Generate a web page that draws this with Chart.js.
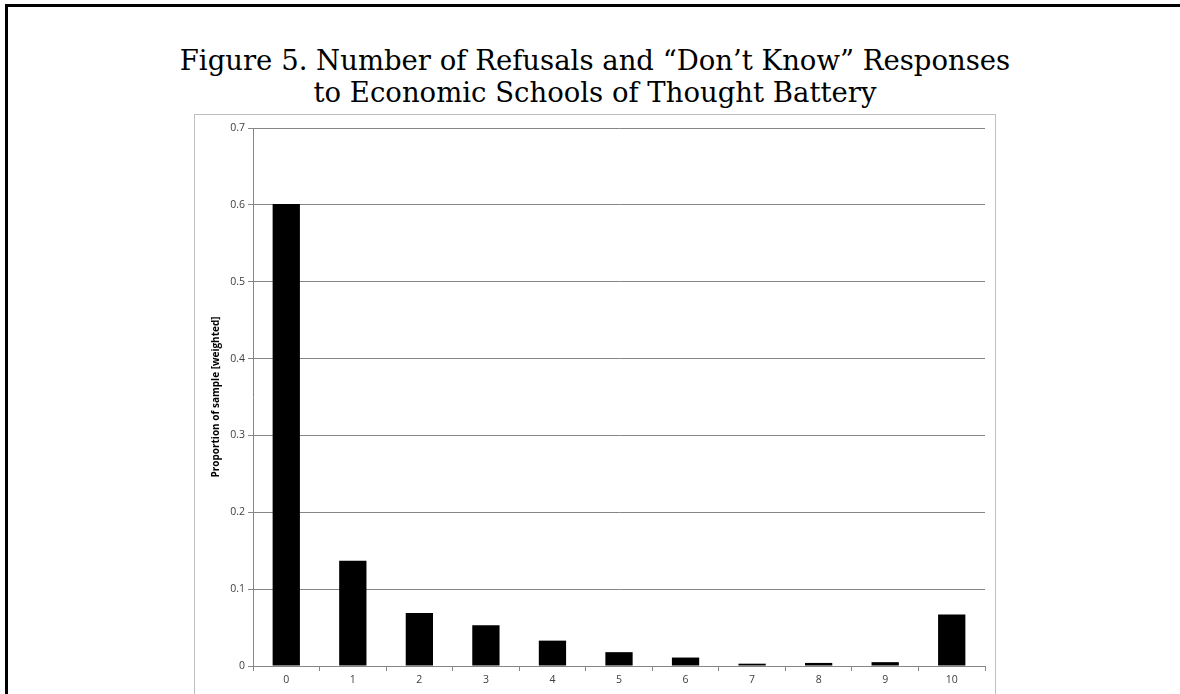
<!DOCTYPE html>
<html>
<head>
<meta charset="utf-8">
<script src="https://cdn.jsdelivr.net/npm/chart.js@4.4.0/dist/chart.umd.min.js"></script>
<style>
  html, body { margin:0; padding:0; width:1180px; height:694px; overflow:hidden; background:#fff; }
  #frame { position:absolute; left:5px; top:4px; width:1300px; height:800px; border-left:3px solid #000; border-top:3px solid #000; }
  #title { position:absolute; left:0; top:44px; width:1190px; text-align:center; font-family:"DejaVu Serif", serif; font-size:27.5px; line-height:32px; color:#000; }
  #box { position:absolute; left:194px; top:114px; width:800px; height:620px; border:1px solid #bfbfbf; }
  canvas { display:block; }
</style>
</head>
<body>
<div id="frame"></div>
<div id="title">Figure 5. Number of Refusals and “Don’t Know” Responses<br>to Economic Schools of Thought Battery</div>
<div id="box"><canvas id="c" width="800" height="600"></canvas></div>
<script>
const categories = ['0','1','2','3','4','5','6','7','8','9','10'];
const proportions = [0.601, 0.137, 0.069, 0.053, 0.033, 0.018, 0.011, 0.003, 0.004, 0.005, 0.067];
const yAxisTitle = 'Proportion of sample [weighted]';
const yMin = 0, yMax = 0.7, yStep = 0.1;

const tickFont = { family: '"Open Sans", "Liberation Sans", sans-serif', size: 10.5 };
new Chart(document.getElementById('c'), {
  type: 'bar',
  data: {
    labels: categories,
    datasets: [{
      data: proportions,
      backgroundColor: '#000',
      borderColor: '#000',
      borderWidth: 0,
      barPercentage: 0.41,
      categoryPercentage: 1
    }]
  },
  options: {
    responsive: false,
    animation: false,
    devicePixelRatio: 1,
    layout: { padding: { top: 13, right: 10, left: 0, bottom: 0 } },
    plugins: { legend: { display: false }, tooltip: { enabled: false } },
    scales: {
      x: {
        offset: true,
        grid: { display: true, drawOnChartArea: false, drawTicks: true, tickLength: 5, color: '#868686', offset: true },
        border: { display: true, color: '#868686', width: 1 },
        ticks: { color: '#404040', font: tickFont, padding: 3, maxRotation: 0 },
        afterFit: s => { s.height = 49; }
      },
      y: {
        min: yMin, max: yMax,
        grid: { color: '#868686', lineWidth: 1, drawTicks: true, tickLength: 5 },
        border: { display: true, color: '#868686', width: 1 },
        ticks: { stepSize: yStep, color: '#404040', font: tickFont, padding: 3,
                 callback: v => String(Number(v.toFixed(1))) },
        title: { display: true, text: yAxisTitle, color: '#000',
                 font: { family: '"Open Sans", "Liberation Sans", sans-serif', size: 10, weight: 'bold' },
                 padding: { top: 15, bottom: 0 } },
        afterFit: s => { s.width = 58; }
      }
    }
  }
});
</script>
</body>
</html>
